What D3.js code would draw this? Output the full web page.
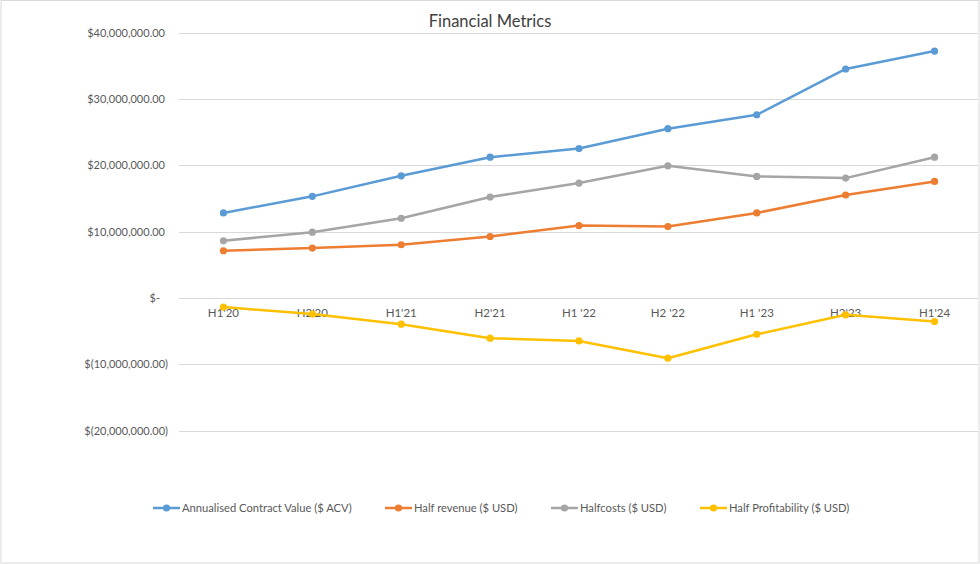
<!DOCTYPE html>
<html><head><meta charset="utf-8">
<script src="https://cdn.jsdelivr.net/npm/d3@7"></script>
<style>body{margin:0;background:#fff;} svg{display:block;}</style>
</head><body>
<svg id="chart" width="980" height="564"></svg>
<script>
const categories = ["H1'20","H2'20","H1'21","H2'21","H1 '22","H2 '22","H1 '23","H2'23","H1'24"];
const acv = [12.8e6, 15.3e6, 18.4e6, 21.2e6, 22.5e6, 25.5e6, 27.6e6, 34.5e6, 37.2e6];
const revenue = [7.1e6, 7.5e6, 8.0e6, 9.25e6, 10.9e6, 10.75e6, 12.8e6, 15.5e6, 17.55e6];
const costs = [8.6e6, 9.9e6, 12.0e6, 15.2e6, 17.3e6, 19.9e6, 18.3e6, 18.05e6, 21.2e6];
const profit = [-1.4e6, -2.45e6, -3.97e6, -6.08e6, -6.5e6, -9.1e6, -5.5e6, -2.56e6, -3.57e6];
const yTicks = [-20e6, -10e6, 0, 10e6, 20e6, 30e6, 40e6];
const seriesNames = ["Annualised Contract Value ($ ACV)", "Half revenue ($ USD)", "Halfcosts ($ USD)", "Half Profitability ($ USD)"];

const series = [
  {name: seriesNames[0], values: acv, color: "#5B9BD5"},
  {name: seriesNames[1], values: revenue, color: "#ED7D31"},
  {name: seriesNames[2], values: costs, color: "#A5A5A5"},
  {name: seriesNames[3], values: profit, color: "#FFC000"}
];

const svg = d3.select("#chart");
const font = "Lato, 'Open Sans', sans-serif";

svg.append("rect").attr("x",1).attr("y",0.5).attr("width",978).attr("height",562.5)
  .attr("fill","#fff").attr("stroke","#d9d9d9").attr("stroke-width",1);

const x = d3.scaleBand().domain(categories).range([179, 979]);
const y = d3.scaleLinear().domain([-20e6, 40e6]).range([430.5, 32.5]);

// gridlines
svg.append("g").selectAll("line").data(yTicks).join("line")
  .attr("x1", 179).attr("x2", 978)
  .attr("y1", d => Math.round(y(d)) + 0.5).attr("y2", d => Math.round(y(d)) + 0.5)
  .attr("stroke", "#d9d9d9").attr("stroke-width", 1);

// y labels
function fmt(d){
  if (d === 0) return "$-";
  const s = d3.format(",.2f")(Math.abs(d));
  return d < 0 ? "$(" + s + ")" : "$" + s;
}
svg.append("g").selectAll("text").data(yTicks).join("text")
  .attr("x", d => d === 0 ? 160 : (d < 0 ? 168 : 165))
  .attr("y", d => y(d) + 4)
  .attr("text-anchor", "end")
  .attr("font-family", font).attr("font-size", 11).attr("fill", "#595959")
  .text(fmt);

// x labels
svg.append("g").selectAll("text").data(categories).join("text")
  .attr("x", d => x(d) + x.bandwidth()/2)
  .attr("y", 317)
  .attr("text-anchor", "middle")
  .attr("font-family", font).attr("font-size", 11.5).attr("fill", "#595959")
  .text(d => d);

// lines
const line = d3.line().x((d,i) => x(categories[i]) + x.bandwidth()/2).y(d => y(d));
series.forEach(s => {
  svg.append("path").datum(s.values).attr("d", line)
    .attr("fill","none").attr("stroke", s.color).attr("stroke-width", 2.5)
    .attr("stroke-linejoin","round").attr("stroke-linecap","round");
  svg.append("g").selectAll("circle").data(s.values).join("circle")
    .attr("cx", (d,i) => x(categories[i]) + x.bandwidth()/2)
    .attr("cy", d => y(d)).attr("r", 3.6).attr("fill", s.color);
});

// title
svg.append("text").attr("x", 490).attr("y", 27).attr("text-anchor","middle")
  .attr("font-family", font).attr("font-size", 16.5).attr("fill", "#404040")
  .text("Financial Metrics");

// legend
const legX = [153, 385, 551, 700];
const leg = svg.append("g");
series.forEach((s, i) => {
  const g = leg.append("g").attr("transform", `translate(${legX[i]},508)`);
  g.append("line").attr("x1",0).attr("x2",27).attr("y1",0).attr("y2",0)
    .attr("stroke", s.color).attr("stroke-width", 2.5);
  g.append("circle").attr("cx",13.5).attr("cy",0).attr("r",3.6).attr("fill", s.color);
  g.append("text").attr("x", 29).attr("y", 4)
    .attr("font-family", font).attr("font-size", 11.2).attr("fill", "#595959")
    .text(s.name);
});
</script>
</body></html>
